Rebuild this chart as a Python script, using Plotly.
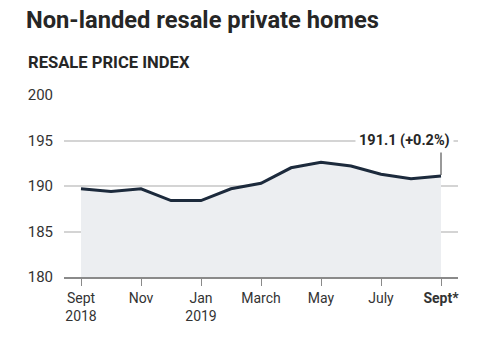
import plotly.graph_objects as go

# Monthly resale price index, Sept 2018 to Sept 2019
months = ["Sep 2018", "Oct 2018", "Nov 2018", "Dec 2018", "Jan 2019", "Feb 2019",
          "Mar 2019", "Apr 2019", "May 2019", "Jun 2019", "Jul 2019", "Aug 2019", "Sep 2019"]
index_values = [189.7, 189.4, 189.7, 188.4, 188.4, 189.7, 190.3, 192.0, 192.6, 192.2, 191.3, 190.8, 191.1]

tick_positions = [0, 2, 4, 6, 8, 10, 12]
tick_labels = ["Sept<br>2018", "Nov", "Jan<br>2019", "March", "May", "July", "<b>Sept*</b>"]
y_ticks = [180, 185, 190, 195, 200]

latest_label = "191.1 (+0.2%)"

x_idx = list(range(len(months)))

W, H = 502, 338
L, R, T, B = 64, 44, 95, 61
plot_w = W - L - R
plot_h = H - T - B

FONT = "Roboto"
TEXT = "#262626"

fig = go.Figure()
fig.add_trace(go.Scatter(
    x=x_idx, y=index_values, mode="lines",
    line=dict(color="#1c2a3c", width=3),
    fill="tozeroy", fillcolor="#eceef1",
    hoverinfo="skip", customdata=months,
))

# leader line from the latest point up to its label
fig.add_shape(type="line", xref="x", yref="y",
              x0=x_idx[-1], x1=x_idx[-1], y0=index_values[-1] + 0.1, y1=193.9,
              line=dict(color="#555555", width=1.2))

fig.add_annotation(x=x_idx[-1] + 0.43, y=195.0, xref="x", yref="y",
                   text="<b>" + latest_label + "</b>", showarrow=False,
                   xanchor="right", yanchor="middle", bgcolor="white",
                   borderpad=3, font=dict(family=FONT, size=14.5, color=TEXT))

fig.add_annotation(x=(26 - L) / plot_w, y=(H - B - 63) / plot_h,
                   xref="paper", yref="paper", xanchor="left", yanchor="middle",
                   text="<b>RESALE PRICE INDEX</b>", showarrow=False,
                   font=dict(family=FONT, size=16.6, color=TEXT))

fig.update_layout(
    width=W, height=H,
    margin=dict(l=L, r=R, t=T, b=B),
    paper_bgcolor="white", plot_bgcolor="white",
    showlegend=False,
    title=dict(text="<b>Non-landed resale private homes</b>",
               x=26 / W, xanchor="left", xref="container",
               y=1 - 20 / H, yanchor="middle", yref="container",
               font=dict(family=FONT, size=23.7, color=TEXT)),
    font=dict(family=FONT, size=14, color="#333333"),
)

fig.update_xaxes(
    range=[-17 / 30, 12 + 17 / 30],
    tickvals=tick_positions, ticktext=tick_labels,
    ticks="outside", ticklen=7, tickwidth=1, tickcolor="#8a8a8a",
    showline=True, linecolor="#8a8a8a", linewidth=1.5,
    showgrid=False, zeroline=False,
    tickfont=dict(family=FONT, size=14, color="#333333"),
)

fig.update_yaxes(
    range=[180, 200], tickvals=y_ticks,
    showgrid=True, gridcolor="#d4d4d4", gridwidth=1.5,
    zeroline=False, ticks="", ticklabelstandoff=10,
    tickfont=dict(family=FONT, size=15, color="#333333"),
)

fig.write_html("out.html")
